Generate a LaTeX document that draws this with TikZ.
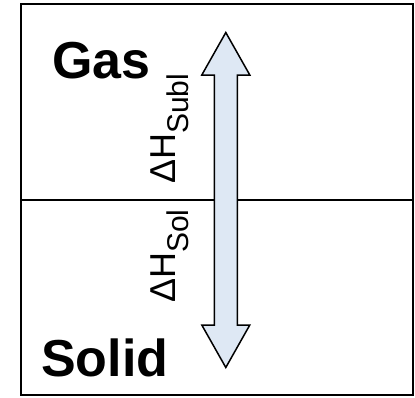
\documentclass[tikz,border=0pt]{standalone}
\usepackage{fontspec}
\setmainfont{Liberation Sans}
\newcommand{\lowsub}[1]{\raisebox{-13pt}{\fontsize{30}{32}\selectfont #1}}
\begin{document}
\begin{tikzpicture}[x=1pt,y=-1pt,
    phase/.style={anchor=base west, inner sep=0pt, font=\fontsize{52}{60}\selectfont\bfseries},
    enthalpy/.style={anchor=base west, inner sep=0pt, rotate=90, font=\fontsize{36}{42}\selectfont}]
    \useasboundingbox (0,0) rectangle (415,397);
    % Draw the frame and the phase boundary
    \draw[line width=1.6pt] (21,4) rectangle (413,395);
    \draw[line width=1.3pt] (21,200) -- (413,200);

    % Draw the double arrow between the phases
    \draw[line width=1.5pt, line join=miter, fill={rgb,255:red,222;green,232;blue,244}]
        (225.8,32.5) -- (249.8,75) -- (237.3,75) -- (237.3,325) -- (249.8,325)
        -- (225.8,367.5) -- (201.8,325) -- (214.3,325) -- (214.3,75) -- (201.8,75) -- cycle;

    % Phase labels
    \node[phase] (gas) at (52,78) {Gas};
    \node[phase] (solid) at (41,376) {Solid};

    % Enthalpy labels
    \node[enthalpy] (subl) at (175,184) {ΔH\lowsub{Subl}};
    \node[enthalpy] (sol) at (175,303) {ΔH\lowsub{Sol}};
\end{tikzpicture}
\end{document}
